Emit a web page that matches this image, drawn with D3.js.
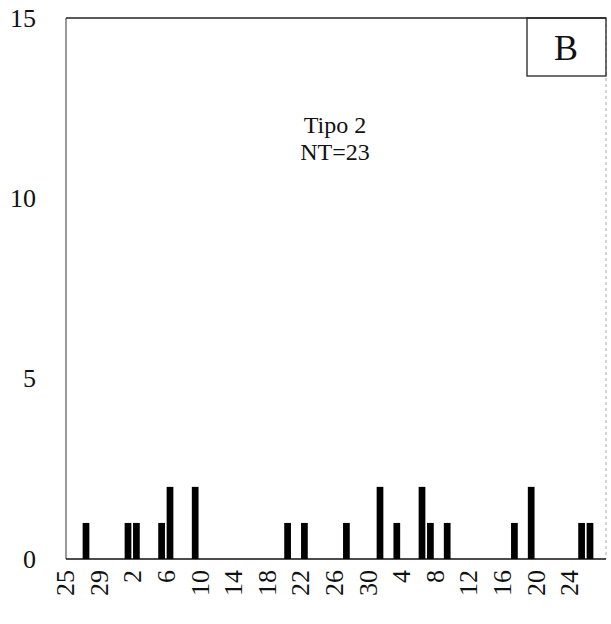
<!DOCTYPE html>
<html>
<head>
	<meta http-equiv="Content-Type" content="text/html; charset=utf-8"/>
	<title>Tipo 2</title>
	<style>
		body { margin: 0; background: #fff; }
		text { font-family: "Liberation Serif", "DejaVu Serif", serif; fill: #111; }
	</style>
</head>
<body>
	<svg width="611" height="624" id="viz"></svg>

	<script src="https://d3js.org/d3.v7.min.js"></script>
	<script>
		// Datos: días consecutivos (64), etiqueta cada 4 días
		const dayLabels = ["25","26","27","28","29","30","31",
			"1","2","3","4","5","6","7","8","9","10","11","12","13","14","15",
			"16","17","18","19","20","21","22","23","24","25","26","27","28","29","30",
			"1","2","3","4","5","6","7","8","9","10","11","12","13","14","15",
			"16","17","18","19","20","21","22","23","24","25","26","27"];
		const counts = [0,0,1,0,0,0,0,1,1,0,
			0,1,2,0,0,2,0,0,0,0,
			0,0,0,0,0,0,1,0,1,0,
			0,0,0,1,0,0,0,2,0,1,
			0,0,2,1,0,1,0,0,0,0,
			0,0,0,1,0,2,0,0,0,0,
			0,1,1,0];
		const yTicks = [0, 5, 10, 15];
		const titleLines = ["Tipo 2", "NT=23"];
		const panelLabel = "B";

		const pLeft = 66, pRight = 606, pTop = 18, pBottom = 559;

		const svg = d3.select("#viz");

		const x = d3.scaleBand()
			.domain(d3.range(dayLabels.length))
			.range([65, 602.6])
			.paddingInner(0.2)
			.paddingOuter(0.1);

		const y = d3.scaleLinear()
			.domain([0, 15])
			.range([pBottom, pTop]);

		// Marco
		svg.append("line").attr("x1", pLeft).attr("x2", pLeft).attr("y1", pTop).attr("y2", pBottom)
			.attr("stroke", "#555").attr("stroke-width", 1.2);
		svg.append("line").attr("x1", pLeft).attr("x2", pRight).attr("y1", pTop).attr("y2", pTop)
			.attr("stroke", "#222").attr("stroke-width", 1.3);
		svg.append("line").attr("x1", pRight).attr("x2", pRight).attr("y1", pTop).attr("y2", pBottom)
			.attr("stroke", "#aaa").attr("stroke-width", 1).attr("stroke-dasharray", "3,3");
		svg.append("line").attr("x1", pLeft).attr("x2", pRight).attr("y1", pBottom).attr("y2", pBottom)
			.attr("stroke", "#111").attr("stroke-width", 1.5);

		// Barras
		svg.append("g").selectAll("rect")
			.data(counts.map((c, i) => ({i: i, c: c})).filter(d => d.c > 0))
			.join("rect")
			.attr("x", d => x(d.i))
			.attr("y", d => y(d.c))
			.attr("width", x.bandwidth())
			.attr("height", d => pBottom - y(d.c))
			.attr("fill", "#000");

		// Eje y
		svg.append("g")
			.attr("transform", `translate(${pLeft},0)`)
			.call(d3.axisLeft(y).tickValues(yTicks).tickSize(0).tickPadding(30))
			.call(g => g.select(".domain").remove())
			.call(g => g.selectAll("text")
				.style("font-family", "Liberation Serif, serif")
				.style("font-size", "26px")
				.attr("fill", "#111"));

		// Eje x (etiquetas al inicio de cada celda)
		svg.append("g")
			.attr("transform", `translate(${-x.step() / 2},${pBottom})`)
			.call(d3.axisBottom(x)
				.tickValues(d3.range(0, dayLabels.length, 4))
				.tickFormat(i => dayLabels[i])
				.tickSize(0))
			.call(g => g.select(".domain").remove())
			.call(g => g.selectAll("text")
				.attr("transform", "rotate(-90)")
				.attr("x", -11)
				.attr("y", 0)
				.attr("dy", "0.35em")
				.style("text-anchor", "end")
				.style("font-family", "Liberation Serif, serif")
				.style("font-size", "26px")
				.attr("fill", "#111"));

		// Título
		svg.append("g").selectAll("text")
			.data(titleLines)
			.join("text")
			.attr("x", 335)
			.attr("y", (d, i) => 133 + i * 27)
			.attr("text-anchor", "middle")
			.style("font-size", "24px")
			.text(d => d);

		// Recuadro B
		svg.append("rect")
			.attr("x", 527).attr("y", pTop).attr("width", pRight - 527).attr("height", 58)
			.attr("fill", "none").attr("stroke", "#222").attr("stroke-width", 1.3);
		svg.append("text")
			.attr("x", 566).attr("y", 60)
			.attr("text-anchor", "middle")
			.style("font-size", "36px")
			.text(panelLabel);
	</script>
</body>
</html>
